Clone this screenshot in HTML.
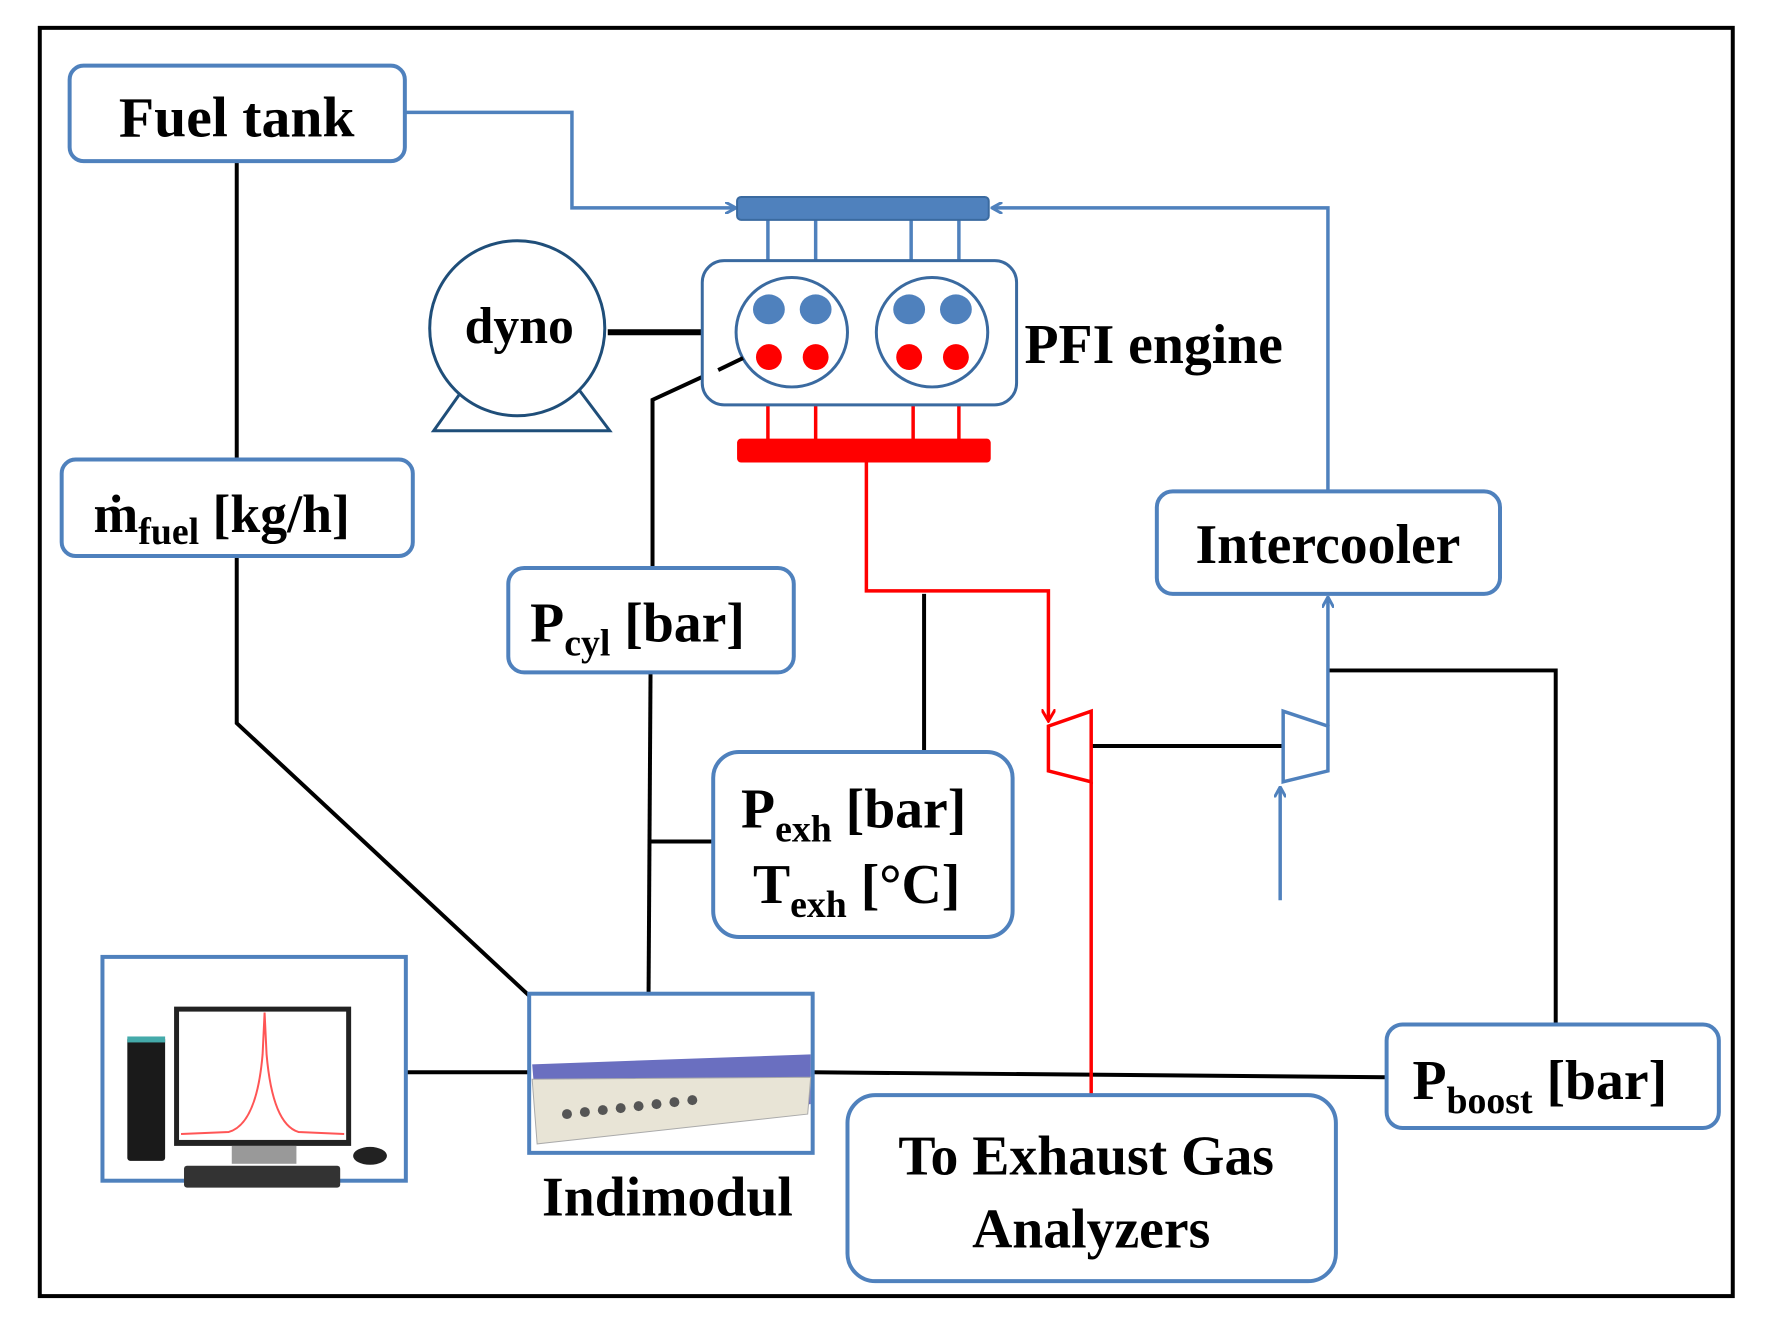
<!DOCTYPE html>
<html><head><meta charset="utf-8"><style>
html,body{margin:0;padding:0;background:#fff}
svg{display:block}
text{font-family:"Liberation Serif",serif;font-weight:bold;fill:#000}
</style></head><body>
<svg width="1765" height="1333" viewBox="0 0 1765 1333" xmlns="http://www.w3.org/2000/svg">
<defs>
<marker id="ab" markerWidth="12" markerHeight="12" refX="10" refY="6" orient="auto" markerUnits="userSpaceOnUse"><path d="M0,0 L11,6 L0,12" fill="none" stroke="#4f81bd" stroke-width="3"/></marker>
<marker id="ar" markerWidth="14" markerHeight="14" refX="11" refY="7" orient="auto" markerUnits="userSpaceOnUse"><path d="M0,0 L12,7 L0,14" fill="none" stroke="#f00" stroke-width="3"/></marker>
</defs>
<g transform="scale(0.9947)">
<rect x="40" y="28" width="1702" height="1275" fill="none" stroke="#000" stroke-width="4"/>

<g stroke="#000" stroke-width="4" fill="none">
<line x1="238" y1="162" x2="238" y2="462"/>
<polyline points="238,559 238,727 532,1001"/>
<polyline points="747,360 656,402 656,571"/>
<line x1="654" y1="676" x2="652" y2="1001"/>
<line x1="654" y1="846" x2="717" y2="846"/>
<line x1="929" y1="756" x2="929" y2="597"/>
<line x1="408" y1="1078" x2="532" y2="1078"/>
<line x1="817" y1="1078" x2="1394" y2="1083"/>
<line x1="1097" y1="750" x2="1290" y2="750"/>
<polyline points="1335,674 1564,674 1564,1030"/>
<line x1="611" y1="334" x2="706" y2="334" stroke-width="6"/>
</g>

<g stroke="#4f81bd" stroke-width="3.5" fill="none">
<polyline points="407,113 575,113 575,209 739,209" marker-end="url(#ab)"/>
<polyline points="1335,494 1335,209 998,209" marker-end="url(#ab)"/>
<line x1="772" y1="221" x2="772" y2="262"/><line x1="820" y1="221" x2="820" y2="262"/>
<line x1="916" y1="221" x2="916" y2="262"/><line x1="964" y1="221" x2="964" y2="262"/>
<line x1="1287" y1="905" x2="1287" y2="792" marker-end="url(#ab)"/>
<line x1="1335" y1="730" x2="1335" y2="601" marker-end="url(#ab)"/>
<polygon points="1290,715 1335,730 1335,775 1290,786"/>
</g>
<rect x="741" y="198" width="253" height="23" rx="4" fill="#4f81bd" stroke="#3a6aa0" stroke-width="2"/>

<g stroke="#f00" stroke-width="3.5" fill="none">
<line x1="772" y1="407" x2="772" y2="442"/><line x1="820" y1="407" x2="820" y2="442"/>
<line x1="918" y1="407" x2="918" y2="442"/><line x1="964" y1="407" x2="964" y2="442"/>
<polyline points="871,464 871,594 1054,594 1054,724" marker-end="url(#ar)"/>
<polygon points="1054,730 1097,715 1097,786 1054,775"/>
<line x1="1097" y1="786" x2="1097" y2="1100"/>
</g>
<rect x="741" y="441" width="255" height="24" rx="4" fill="#f00"/>

<rect x="706" y="262" width="316" height="145" rx="22" fill="#fff" stroke="#3a6aa0" stroke-width="3"/>
<ellipse cx="796" cy="334" rx="56" ry="55" fill="#fff" stroke="#3a6aa0" stroke-width="3"/>
<ellipse cx="937" cy="334" rx="56" ry="55" fill="#fff" stroke="#3a6aa0" stroke-width="3"/>
<g fill="#4f81bd"><ellipse cx="773" cy="311" rx="16" ry="15"/><ellipse cx="820" cy="311" rx="16" ry="15"/><ellipse cx="914" cy="311" rx="16" ry="15"/><ellipse cx="961" cy="311" rx="16" ry="15"/></g>
<g fill="#f00"><ellipse cx="773" cy="359" rx="13" ry="13"/><ellipse cx="820" cy="359" rx="13" ry="13"/><ellipse cx="914" cy="359" rx="13" ry="13"/><ellipse cx="961" cy="359" rx="13" ry="13"/></g>
<line x1="747" y1="360" x2="722" y2="372" stroke="#000" stroke-width="4"/>
<text x="1030" y="365" font-size="56">PFI engine</text>

<polygon points="470,385 577,385 613,433 436,433" fill="#fff" stroke="#1f4e79" stroke-width="3"/>
<circle cx="520" cy="330" r="88" fill="#fff" stroke="#1f4e79" stroke-width="3"/>
<text x="522" y="345" font-size="52" text-anchor="middle">dyno</text>

<g fill="#fff" stroke="#4f81bd" stroke-width="4">
<rect x="70" y="66" width="337" height="96" rx="14"/>
<rect x="62" y="462" width="353" height="97" rx="14"/>
<rect x="511" y="571" width="287" height="105" rx="16"/>
<rect x="717" y="756" width="301" height="186" rx="26"/>
<rect x="1163" y="494" width="345" height="103" rx="16"/>
<rect x="1394" y="1030" width="334" height="104" rx="16"/>
<rect x="852" y="1101" width="491" height="187" rx="28"/>
<rect x="103" y="962" width="305" height="225"/>
<rect x="532" y="999" width="285" height="160"/>
</g>
<text x="238" y="137" font-size="58" text-anchor="middle">Fuel tank</text>
<text x="94" y="535" font-size="54">ṁ<tspan font-size="38" dy="12">fuel</tspan><tspan dy="-12"> [kg/h]</tspan></text>
<text x="533" y="645" font-size="56">P<tspan font-size="38" dy="14">cyl</tspan><tspan dy="-14"> [bar]</tspan></text>
<text x="745" y="832" font-size="56">P<tspan font-size="38" dy="14">exh</tspan><tspan dy="-14"> [bar]</tspan></text>
<text x="757" y="908" font-size="56">T<tspan font-size="38" dy="14">exh</tspan><tspan dy="-14"> [°C]</tspan></text>
<text x="1335" y="566" font-size="56" text-anchor="middle">Intercooler</text>
<text x="1420" y="1105" font-size="56">P<tspan font-size="38" dy="14">boost</tspan><tspan dy="-14"> [bar]</tspan></text>
<text x="1092" y="1181" font-size="56" text-anchor="middle">To Exhaust Gas</text>
<text x="1097" y="1254" font-size="56" text-anchor="middle">Analyzers</text>
<text x="671" y="1222" font-size="56" text-anchor="middle">Indimodul</text>

<rect x="128" y="1042" width="38" height="125" rx="3" fill="#1a1a1a"/>
<rect x="128" y="1042" width="38" height="6" fill="#4aa"/>
<rect x="175" y="1012" width="178" height="140" fill="#222"/>
<rect x="180" y="1017" width="168" height="129" fill="#fff"/>
<path d="M182,1140 L230,1138 Q258,1130 264,1060 L266,1018 L268,1060 Q274,1130 300,1138 L346,1140" fill="none" stroke="#f55" stroke-width="2"/>
<rect x="233" y="1152" width="65" height="18" fill="#999"/>
<rect x="185" y="1172" width="157" height="22" rx="3" fill="#333"/>
<ellipse cx="372" cy="1162" rx="17" ry="9" fill="#222"/>

<polygon points="535,1070 815,1060 815,1110 540,1130" fill="#6a6fc0"/>
<polygon points="535,1085 815,1083 812,1120 540,1150" fill="#e8e4d6" stroke="#aaa" stroke-width="1"/>
<g fill="#555"><circle cx="570" cy="1120" r="5"/><circle cx="588" cy="1118" r="5"/><circle cx="606" cy="1116" r="5"/><circle cx="624" cy="1114" r="5"/><circle cx="642" cy="1112" r="5"/><circle cx="660" cy="1110" r="5"/><circle cx="678" cy="1108" r="5"/><circle cx="696" cy="1106" r="5"/></g>
</g>
</svg>
</body></html>
